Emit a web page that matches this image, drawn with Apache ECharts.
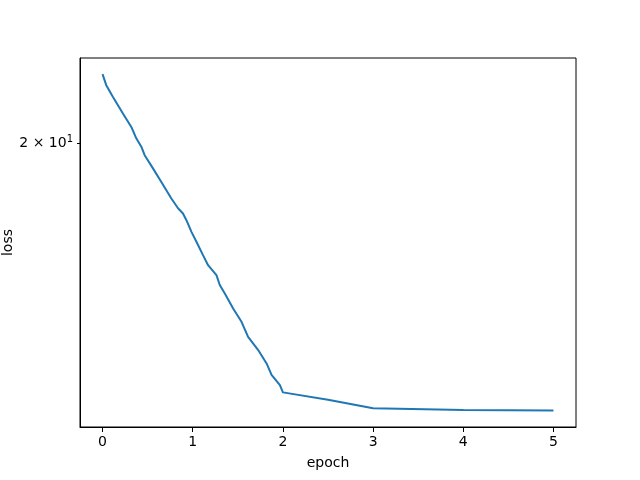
<!DOCTYPE html>
<html>
<head>
<meta charset="utf-8">
<script src="https://cdn.jsdelivr.net/npm/echarts@6/dist/echarts.min.js"></script>
<style>html,body{margin:0;padding:0;background:#fff;}#c{width:640px;height:480px;}</style>
</head>
<body>
<div id="c"></div>
<script>
const epochs = [0, 0.041, 0.114, 0.226, 0.319, 0.374, 0.43, 0.467, 0.559, 0.652, 0.763, 0.837, 0.892, 0.93, 0.986, 1.041, 1.114, 1.17, 1.263, 1.3, 1.356, 1.448, 1.541, 1.614, 1.726, 1.819, 1.874, 1.967, 2.0, 2.5, 3.0, 4.0, 5.0];
const loss = [23.11, 22.58, 22.04, 21.28, 20.69, 20.20, 19.85, 19.50, 18.97, 18.44, 17.81, 17.45, 17.26, 17.02, 16.61, 16.27, 15.82, 15.49, 15.17, 14.86, 14.60, 14.15, 13.76, 13.33, 12.97, 12.61, 12.31, 12.05, 11.87, 11.69, 11.48, 11.44, 11.43];
const xTicks = [0, 1, 2, 3, 4, 5];
const yTicks = [20];

const font = 'DejaVu Sans';
const chart = echarts.init(document.getElementById('c'), null, {renderer: 'canvas'});
chart.setOption({
  animation: false,
  backgroundColor: '#fff',
  grid: {left: 80, right: 64, top: 58, bottom: 53, containLabel: false, outerBoundsMode: 'none', show: true, borderColor: '#000', borderWidth: 1, backgroundColor: 'transparent'},
  xAxis: {
    type: 'value', min: -0.25, max: 5.25,
    name: 'epoch', nameLocation: 'middle', nameGap: 29, nameMoveOverlap: false,
    nameTextStyle: {fontFamily: font, fontSize: 14, color: '#000'},
    axisLine: {show: true, onZero: false, lineStyle: {color: '#000', width: 1}},
    axisTick: {show: true, inside: false, length: 5, customValues: xTicks, lineStyle: {color: '#000'}},
    axisLabel: {customValues: xTicks, margin: 8, fontFamily: font, fontSize: 14, color: '#000'},
    splitLine: {show: false}
  },
  yAxis: {
    type: 'log', logBase: 10, min: 11.04, max: 23.90,
    name: 'loss', nameLocation: 'middle', nameGap: 65, nameRotate: 90, nameMoveOverlap: false,
    nameTextStyle: {fontFamily: font, fontSize: 14, color: '#000'},
    axisLine: {show: true, onZero: false, lineStyle: {color: '#000', width: 1}},
    axisTick: {show: true, length: 3, customValues: yTicks, lineStyle: {color: '#000'}},
    axisLabel: {
      customValues: yTicks, margin: 7, fontFamily: font, color: '#000',
      formatter: function (v) { return '{b|' + Math.round(v / 10) + ' × 10}{s|1}'; },
      rich: {
        b: {fontFamily: font, fontSize: 14, color: '#000'},
        s: {fontFamily: font, fontSize: 10, color: '#000', padding: [0, 0, 7, 0]}
      }
    },
    splitLine: {show: false}
  },
  series: [{
    type: 'line',
    data: epochs.map((e, i) => [e, loss[i]]),
    showSymbol: false, symbol: 'none',
    lineStyle: {color: '#1f77b4', width: 2},
    itemStyle: {color: '#1f77b4'}
  }]
});
</script>
</body>
</html>
